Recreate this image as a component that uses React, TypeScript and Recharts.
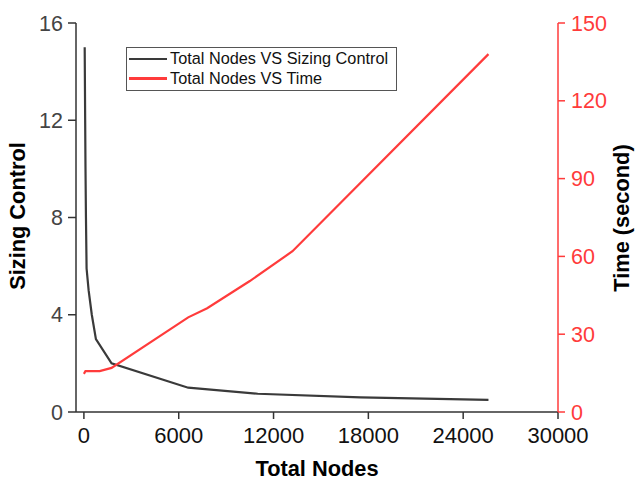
import { Line, LineChart, XAxis, YAxis, Label } from "recharts"

// Black series: total nodes vs sizing control
const sizingNodes = [50, 80, 100, 130, 170, 300, 500, 760, 1750, 6600, 11000, 17500, 25600]
const sizingValues = [15, 12, 10.1, 8, 5.9, 5, 4, 3, 2, 1, 0.75, 0.6, 0.5]

// Red series: total nodes vs time (s)
const timeNodes = [0, 100, 1000, 1750, 6600, 7800, 10500, 13200, 25600]
const timeValues = [14.7, 15.8, 15.8, 17, 36.5, 40, 50.5, 62, 138]

const xTicks = [0, 6000, 12000, 18000, 24000, 30000]
const leftTicks = [0, 4, 8, 12, 16]
const rightTicks = [0, 30, 60, 90, 120, 150]

const legendItems = [
  { name: "Total Nodes VS Sizing Control", color: "#3a3a3a" },
  { name: "Total Nodes VS Time", color: "#ff3b3b" },
]

const sizingData = sizingNodes.map((n, i) => ({ n, v: sizingValues[i] }))
const timeData = timeNodes.map((n, i) => ({ n, t: timeValues[i] }))

const FONT = "'Liberation Sans', Arial, sans-serif"
const RED = "#ff3b3b"
const AXIS = "#333333"

// legend drawn as a plain overlay so recharts doesn't reserve space for it
function LegendBox() {
  return (
    <div style={{ position: "absolute", left: 126, top: 47, width: 267, height: 41, border: "1px solid #555", background: "#fff",
      padding: "1px 0 0 2px", fontFamily: FONT, fontSize: 16.3, color: "#111", lineHeight: "19.5px" }}>
      {legendItems.map((it) => (
        <div key={it.name} style={{ display: "flex", alignItems: "center", whiteSpace: "nowrap" }}>
          <span style={{ display: "inline-block", width: 38, height: 2.5, background: it.color, marginRight: 3 }} />
          {it.name}
        </div>
      ))}
    </div>
  )
}

export default function App() {
  return (
    <div style={{ position: "absolute", left: 0, top: 0, width: 636, height: 483, background: "#fff" }}>
      <LineChart width={636} height={483} margin={{ top: 23, right: 0, bottom: 0, left: 0 }}>
        <XAxis xAxisId="b" dataKey="n" type="number" domain={[-500, 30000]} ticks={xTicks} allowDataOverflow
          height={71} tickSize={7} tickMargin={8} stroke={AXIS} strokeWidth={1.5}
          tick={{ fill: "#111", fontSize: 22, fontFamily: FONT }}>
          <Label content={() => (
            <text x={317} y={476} textAnchor="middle" fontFamily={FONT} fontSize={21.8} fontWeight="bold" fill="#000">Total Nodes</text>
          )} />
        </XAxis>
        <XAxis xAxisId="t" orientation="top" dataKey="n" type="number" domain={[-500, 30000]} ticks={xTicks} allowDataOverflow
          height={0} tickSize={7} stroke={AXIS} strokeWidth={1.5} tickFormatter={() => ""} />
        <YAxis yAxisId="l" domain={[0, 16]} ticks={leftTicks} width={76} tickSize={8} tickMargin={5}
          stroke={AXIS} strokeWidth={1.5} tick={{ fill: "#444", fontSize: 21.5, fontFamily: FONT }}>
          <Label content={() => (
            <text x={25} y={216} transform="rotate(-90 25 216)" textAnchor="middle" fontFamily={FONT} fontSize={21.8} fontWeight="bold" fill="#000">Sizing Control</text>
          )} />
        </YAxis>
        <YAxis yAxisId="r" orientation="right" domain={[0, 150]} ticks={rightTicks} width={78} tickSize={7} tickMargin={6}
          stroke={RED} strokeWidth={1.5} tick={{ fill: RED, fontSize: 21.5, fontFamily: FONT }}>
          <Label content={() => (
            <text x={629} y={218} transform="rotate(-90 629 218)" textAnchor="middle" fontFamily={FONT} fontSize={21.8} fontWeight="bold" fill="#000">Time (second)</text>
          )} />
        </YAxis>
        <Line xAxisId="b" yAxisId="l" data={sizingData} dataKey="v" type="linear" stroke="#3a3a3a" strokeWidth={2.2}
          dot={false} isAnimationActive={false} />
        <Line xAxisId="b" yAxisId="r" data={timeData} dataKey="t" type="linear" stroke={RED} strokeWidth={2.2}
          dot={false} isAnimationActive={false} />
      </LineChart>
      <LegendBox />
    </div>
  )
}
